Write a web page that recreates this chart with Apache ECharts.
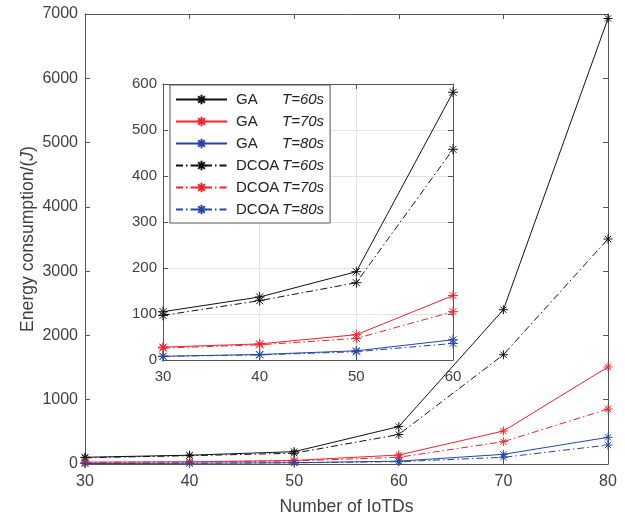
<!DOCTYPE html>
<html>
<head>
    <meta charset="utf-8">
    <script src="https://cdn.jsdelivr.net/npm/echarts@6/dist/echarts.min.js"></script>
    <style>
        html, body { margin: 0; padding: 0; background: #fff; }
        #chart { width: 625px; height: 519px; }
    </style>
</head>
<body>
    <div id="chart"></div>
    <script>
        // number of IoTDs
        var xs = [30, 40, 50, 60, 70, 80];
        var insetCount = 4; // inset shows 30..60

        // energy consumption (J)
        var ga60 = [105, 137, 192, 582, 2400, 6930];
        var ga70 = [28, 35, 55, 140, 513, 1510];
        var ga80 = [8, 12, 20, 44, 150, 415];
        var dcoa60 = [97, 129, 168, 458, 1700, 3500];
        var dcoa70 = [26, 33, 47, 105, 347, 855];
        var dcoa80 = [8, 11, 18, 36, 104, 295];

        var names = ['GA T=60s', 'GA T=70s', 'GA T=80s', 'DCOA T=60s', 'DCOA T=70s', 'DCOA T=80s'];
        var values = [ga60, ga70, ga80, dcoa60, dcoa70, dcoa80];
        var colors = ['#111111', '#f5222a', '#2447a6', '#111111', '#f5222a', '#2447a6'];
        var dashDot = [7, 3, 1.5, 3];

        var star = 'path://M5,0L5,10M0,5L10,5M1.5,1.5L8.5,8.5M8.5,1.5L1.5,8.5';
        var txt = '#404040';
        var font = 'Liberation Sans';

        function pairs(arr, n) {
            return xs.slice(0, n).map(function (x, i) { return [x, arr[i]]; });
        }

        var series = [];
        names.forEach(function (nm, i) {
            var base = {
                name: nm,
                type: 'line',
                symbol: star,
                symbolSize: 9,
                color: colors[i],
                itemStyle: { color: colors[i], borderColor: colors[i], borderWidth: 1 },
                lineStyle: { width: 1, type: i < 3 ? 'solid' : dashDot },
                animation: false
            };
            series.push(Object.assign({}, base, {
                xAxisIndex: 0, yAxisIndex: 0, z: 2,
                data: pairs(values[i], xs.length)
            }));
            series.push(Object.assign({}, base, {
                xAxisIndex: 2, yAxisIndex: 2, z: 12, zlevel: 1,
                symbolSize: 10,
                data: pairs(values[i], insetCount)
            }));
        });

        function plain(v) { return String(v); }

        function axisBase(extra) {
            return Object.assign({
                type: 'value',
                axisLine: { show: true, onZero: false, lineStyle: { color: '#555', width: 1 } },
                axisTick: { show: true, inside: true, length: 5, lineStyle: { color: '#555' } },
                axisLabel: { color: txt, fontSize: 15, fontFamily: font, formatter: plain },
                splitLine: { show: false }
            }, extra);
        }

        var option = {
            backgroundColor: '#fff',
            textStyle: { fontFamily: font },
            grid: [
                { left: 85, right: 17, top: 14, bottom: 55, outerBoundsMode: 'none', containLabel: false },
                { left: 163, right: 172, top: 84, bottom: 159, outerBoundsMode: 'none', containLabel: false,
                  show: true, backgroundColor: '#fff', borderWidth: 0, zlevel: 1, z: 10 }
            ],
            xAxis: [
                axisBase({ gridIndex: 0, min: 30, max: 80, interval: 10, position: 'bottom',
                    axisLabel: { color: txt, fontSize: 16, fontFamily: font, margin: 10, formatter: plain },
                    name: 'Number of IoTDs', nameLocation: 'middle', nameGap: 34, nameMoveOverlap: false,
                    nameTextStyle: { color: txt, fontSize: 17.6, fontFamily: font } }),
                axisBase({ gridIndex: 0, min: 30, max: 80, interval: 10, position: 'top',
                    axisLabel: { show: false } }),
                axisBase({ gridIndex: 1, min: 30, max: 60, interval: 10, position: 'bottom', zlevel: 1, z: 11,
                    axisLabel: { color: txt, fontSize: 15, fontFamily: font, margin: 9, formatter: plain },
                    splitLine: { show: true, lineStyle: { color: '#e3e3e3' } } }),
                axisBase({ gridIndex: 1, min: 30, max: 60, interval: 10, position: 'top', zlevel: 1, z: 11,
                    axisLabel: { show: false } })
            ],
            yAxis: [
                axisBase({ gridIndex: 0, min: 0, max: 7000, interval: 1000, position: 'left',
                    axisLabel: { color: txt, fontSize: 16, fontFamily: font, margin: 7, formatter: plain },
                    name: 'Energy consumption/({i|J})', nameLocation: 'middle', nameGap: 48, nameMoveOverlap: false,
                    nameTextStyle: { color: txt, fontSize: 17.6, fontFamily: font,
                        rich: { i: { fontStyle: 'italic', color: txt, fontSize: 17.6, fontFamily: font } } } }),
                axisBase({ gridIndex: 0, min: 0, max: 7000, interval: 1000, position: 'right',
                    axisLabel: { show: false } }),
                axisBase({ gridIndex: 1, min: 0, max: 600, interval: 100, position: 'left', zlevel: 1, z: 11,
                    axisLabel: { color: txt, fontSize: 15, fontFamily: font, margin: 6, formatter: plain },
                    splitLine: { show: true, lineStyle: { color: '#e3e3e3' } } }),
                axisBase({ gridIndex: 1, min: 0, max: 600, interval: 100, position: 'right', zlevel: 1, z: 11,
                    axisLabel: { show: false } })
            ],
            legend: {
                data: names,
                orient: 'vertical',
                left: 170,
                top: 85,
                zlevel: 1,
                z: 20,
                padding: [7, 6, 6, 5],
                itemWidth: 51,
                itemHeight: 12,
                itemGap: 7,
                backgroundColor: '#fff',
                borderColor: '#555',
                borderWidth: 1,
                borderRadius: 0,
                formatter: function (nm) {
                    var parts = nm.split(' ');
                    return '{a|' + parts[0] + '}{b|' + parts[1] + '}';
                },
                textStyle: {
                    color: '#222',
                    fontSize: 15,
                    fontFamily: font,
                    rich: {
                        a: { width: 46, padding: [0, 0, 0, 4], fontSize: 15, fontFamily: font, color: '#222' },
                        b: { fontSize: 15, fontStyle: 'italic', fontFamily: font, color: '#222' }
                    }
                }
            },
            series: series
        };

        var myChart = echarts.init(document.getElementById('chart'));
        myChart.setOption(option);
    </script>
</body>
</html>
